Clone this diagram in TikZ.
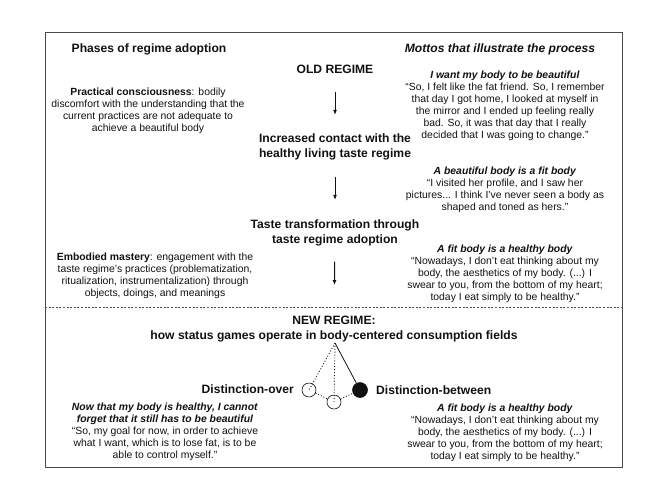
\documentclass[tikz,border=0pt]{standalone}
\usepackage{fontspec}
\setmainfont{Liberation Sans}
\usepackage{tikz}
\usetikzlibrary{arrows.meta, positioning, calc}
\definecolor{framegray}{HTML}{4A4A4A}
\definecolor{inkcolor}{HTML}{111111}

\tikzset{
  heading/.style={font=\fontsize{12.1}{14.5}\selectfont\bfseries, align=center, inner sep=0pt, text=inkcolor},
  phasetext/.style={font=\fontsize{10.4}{11.9}\selectfont, align=center, inner sep=0pt, text=inkcolor},
  flow/.style={-{Latex[length=5pt,width=4pt]}, line width=1pt, inkcolor},
  bob/.style={circle, draw=inkcolor, line width=0.6pt, minimum size=14pt, inner sep=0pt}
}
\newcommand{\motto}[1]{\textbf{\textit{#1}}}

\begin{document}
\begin{tikzpicture}[x=1pt, y=-1pt]
    \useasboundingbox (0, 0) rectangle (671, 480);
    % Frame and separator
    \draw[framegray, line width=0.8pt] (45, 32) rectangle (622, 467);
    \draw[framegray, line width=0.6pt, dash pattern=on 2pt off 1.6pt] (45, 307) -- (622, 307);
    % Column headings
    \node[heading] (phases) at (149, 49) {Phases of regime adoption};
    \node[heading, font=\fontsize{12.1}{14.5}\selectfont\bfseries\itshape] (mottos) at (500, 49) {Mottos that illustrate the process};
    % Stages
    \node[heading] (old) at (335, 69) {OLD REGIME};
    \node[heading] (contact) at (335, 147) {Increased contact with the\\healthy living taste regime};
    \node[heading] (taste) at (335, 233) {Taste transformation through\\taste regime adoption};
    \node[heading] (new) at (334, 329) {NEW REGIME:\\how status games operate in body-centered consumption fields};
    \draw[flow, shorten <=19pt, shorten >=19pt] (old) -- (contact);
    \draw[flow, shorten <=16.5pt, shorten >=20pt] (contact) -- (taste);
    \draw[flow, shorten <=15.5pt, shorten >=31pt] (taste) -- (new);
    % Phases
    \node[phasetext] (practical) at (148, 111) {\textbf{Practical consciousness}: bodily\\discomfort with the understanding that the\\current practices are not adequate to\\achieve a beautiful body};
    \node[phasetext] (mastery) at (155, 276) {\textbf{Embodied mastery}: engagement with the\\taste regime's practices (problematization,\\ritualization, instrumentalization) through\\objects, doings, and meanings};
    % Mottos
    \node[phasetext] (beautiful) at (505, 106) {\motto{I want my body to be beautiful}\\``So, I felt like the fat friend. So, I remember\\that day I got home, I looked at myself in\\the mirror and I ended up feeling really\\bad. So, it was that day that I really\\decided that I was going to change.''};
    \node[phasetext] (fit) at (505, 190) {\motto{A beautiful body is a fit body}\\``I visited her profile, and I saw her\\pictures... I think I've never seen a body as\\shaped and toned as hers.''};
    \node[phasetext] (healthy) at (505, 274) {\motto{A fit body is a healthy body}\\``Nowadays, I don't eat thinking about my\\body, the aesthetics of my body. (...) I\\swear to you, from the bottom of my heart;\\today I eat simply to be healthy.''};
    % Pendulum
    \coordinate (pivot) at (335, 343);
    \node[bob] (over) at (309, 390) {};
    \node[bob] (rest) at (334, 402) {};
    \node[bob, fill=inkcolor, minimum size=15pt] (between) at (360, 390) {};
    \draw[inkcolor, line width=0.8pt] (pivot) -- (between);
    \draw[inkcolor, line width=0.9pt, dotted] (pivot) -- (over.center);
    \draw[inkcolor, line width=0.9pt, dotted] (pivot) -- (rest.center);
    \draw[inkcolor, line width=0.9pt, dotted] (over) -- (rest) -- (between);
    \node[heading, anchor=east] (overlabel) at (294, 389) {Distinction-over};
    \node[heading, anchor=west] (betweenlabel) at (376, 390) {Distinction-between};
    % New regime mottos
    \node[phasetext] (control) at (165, 432) {\motto{Now that my body is healthy, I cannot}\\\motto{forget that it still has to be beautiful}\\``So, my goal for now, in order to achieve\\what I want, which is to lose fat, is to be\\able to control myself.''};
    \node[phasetext] (simply) at (505, 433) {\motto{A fit body is a healthy body}\\``Nowadays, I don't eat thinking about my\\body, the aesthetics of my body. (...) I\\swear to you, from the bottom of my heart;\\today I eat simply to be healthy.''};
\end{tikzpicture}
\end{document}
